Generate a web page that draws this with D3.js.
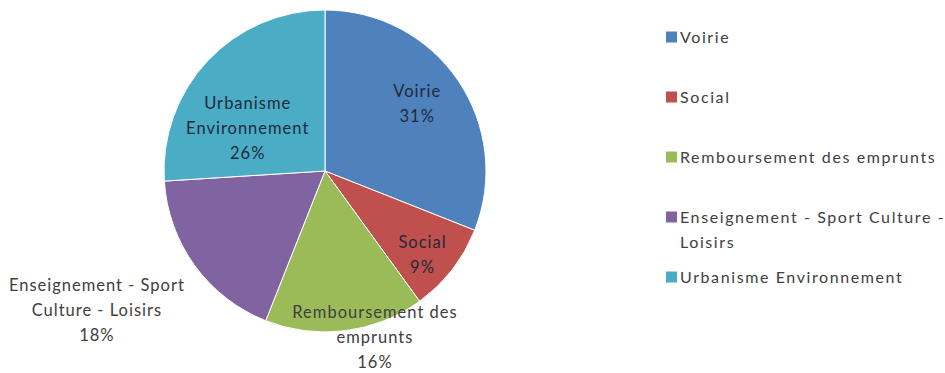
<!DOCTYPE html>
<html>
<head>
<meta charset="utf-8">
<script src="https://cdn.jsdelivr.net/npm/d3@7"></script>
<style>
  html, body { margin: 0; padding: 0; background: #fff; }
  svg { display: block; }
  text { font-family: Lato, "Open Sans", sans-serif; }
</style>
</head>
<body>
<svg id="chart" width="945" height="373"></svg>
<script>
const categories = ["Voirie", "Social", "Remboursement des emprunts", "Enseignement - Sport Culture - Loisirs", "Urbanisme Environnement"];
const values = [31, 9, 16, 18, 26];
const colors = ["#4F81BD", "#C0504D", "#9BBB59", "#8064A2", "#4BACC6"];
const labelLines = [
  ["Voirie", "31%"],
  ["Social", "9%"],
  ["Remboursement des", "emprunts", "16%"],
  ["Enseignement - Sport", "Culture - Loisirs", "18%"],
  ["Urbanisme", "Environnement", "26%"]
];
const legendLines = [
  ["Voirie"],
  ["Social"],
  ["Remboursement des emprunts"],
  ["Enseignement - Sport Culture -", "Loisirs"],
  ["Urbanisme Environnement"]
];

const svg = d3.select("#chart");
const cx = 325, cy = 171, R = 161;
const g = svg.append("g").attr("transform", `translate(${cx},${cy})`);

const pie = d3.pie().sort(null).value(d => d)(values);
const arc = d3.arc().innerRadius(0).outerRadius(R);

g.selectAll("path.slice").data(pie).join("path")
  .attr("class", "slice")
  .attr("d", arc)
  .attr("fill", (d, i) => colors[i])
  .attr("stroke", "#fff")
  .attr("stroke-width", 1);

// label placement: radius factor and angular shift (deg) relative to slice middle
const labelPlace = [
  {r: 0.71, da: -2},
  {r: 0.80, da: 3},
  {r: 1.08, da: -9.5},
  {r: 1.66, da: 4.6},
  {r: 0.55, da: -14}
];
const lineH = 25;
pie.forEach((d, i) => {
  const mid = (d.startAngle + d.endAngle) / 2 + labelPlace[i].da * Math.PI / 180;
  const rr = R * labelPlace[i].r;
  const x = Math.sin(mid) * rr, y = -Math.cos(mid) * rr;
  const lines = labelLines[i];
  const inside = labelPlace[i].r < 1;
  const t = g.append("text")
    .attr("text-anchor", "middle")
    .attr("font-size", 16.5)
    .attr("letter-spacing", 1)
    .attr("fill", inside ? "#1f2a3c" : "#404040");
  lines.forEach((ln, j) => {
    t.append("tspan")
      .attr("x", x)
      .attr("y", y + (j - (lines.length - 1) / 2) * lineH)
      .attr("dy", "0.35em")
      .text(ln);
  });
});

// legend
const legendY = d3.scalePoint().domain(d3.range(categories.length)).range([37, 277]);
const lg = svg.append("g");
categories.forEach((c, i) => {
  const y = legendY(i);
  lg.append("rect").attr("x", 666).attr("y", y - 5.5).attr("width", 11).attr("height", 11)
    .attr("fill", colors[i]);
  const t = lg.append("text").attr("font-size", 16).attr("letter-spacing", 1.6).attr("fill", "#404040");
  legendLines[i].forEach((ln, j) => {
    t.append("tspan").attr("x", 680)
      .attr("y", y + j * 25).attr("dy", "0.35em").text(ln);
  });
});
</script>
</body>
</html>
